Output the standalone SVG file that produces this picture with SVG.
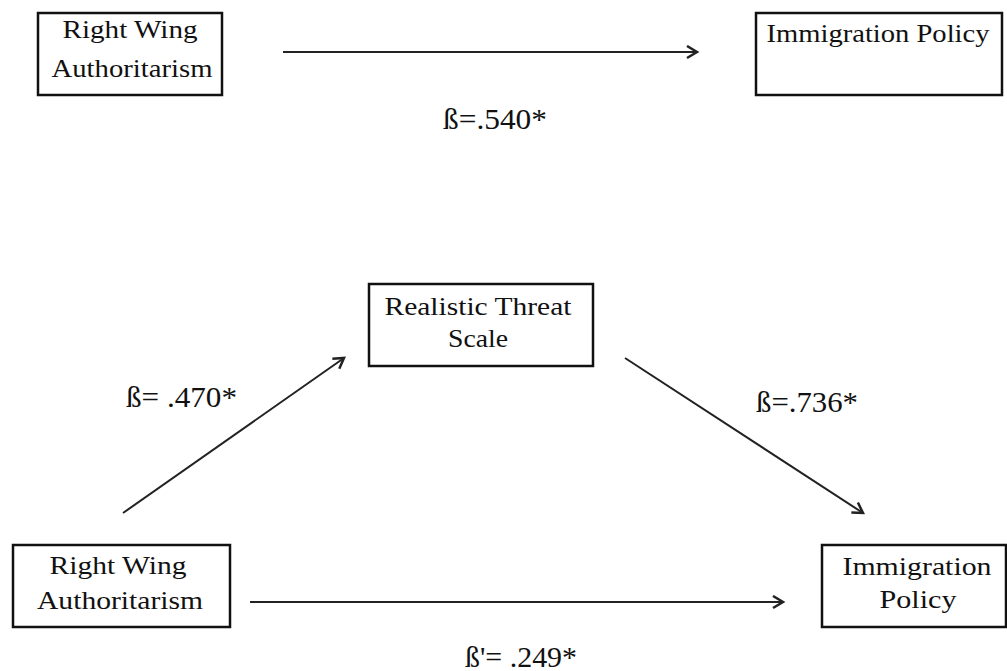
<svg xmlns="http://www.w3.org/2000/svg" width="1007" height="671" viewBox="0 0 1007 671">
<defs>
<style>
.box{fill:#fff;stroke:#111;stroke-width:2.5}
.t{font-family:"Liberation Serif","Times New Roman",serif;font-size:25px;fill:#111;text-anchor:middle}
.lbl{font-family:"Liberation Serif","Times New Roman",serif;font-size:30px;fill:#111}
.c{stroke:#222;stroke-width:2;fill:none}
</style>
<marker id="ah" markerUnits="userSpaceOnUse" markerWidth="16" markerHeight="16" refX="12" refY="7" orient="auto">
<path d="M2,1 L12,7 L2,13" fill="none" stroke="#222" stroke-width="2.5"/>
</marker>
</defs>
<rect width="1007" height="671" fill="#fff"/>
<g id="rwa1">
<rect class="box" x="38" y="13" width="184" height="82"/>
<text class="t" x="130" y="38" textLength="135" lengthAdjust="spacingAndGlyphs">Right Wing</text>
<text class="t" x="132" y="77" textLength="161" lengthAdjust="spacingAndGlyphs">Authoritarism</text>
</g>
<g id="ip1">
<rect class="box" x="756" y="13" width="246" height="82"/>
<text class="t" x="878" y="42" textLength="223" lengthAdjust="spacingAndGlyphs">Immigration Policy</text>
</g>
<g id="rts">
<rect class="box" x="369" y="284" width="224" height="82"/>
<text class="t" x="478" y="315" textLength="187" lengthAdjust="spacingAndGlyphs">Realistic Threat</text>
<text class="t" x="478" y="347" textLength="60" lengthAdjust="spacingAndGlyphs">Scale</text>
</g>
<g id="rwa2">
<rect class="box" x="13" y="545" width="217" height="82"/>
<text class="t" x="118" y="574" textLength="137" lengthAdjust="spacingAndGlyphs">Right Wing</text>
<text class="t" x="120" y="609" textLength="166" lengthAdjust="spacingAndGlyphs">Authoritarism</text>
</g>
<g id="ip2">
<rect class="box" x="822" y="545" width="184" height="82"/>
<text class="t" x="917" y="575" textLength="149" lengthAdjust="spacingAndGlyphs">Immigration</text>
<text class="t" x="918" y="608" textLength="77" lengthAdjust="spacingAndGlyphs">Policy</text>
</g>
<g id="connectors">
<line class="c" x1="283" y1="52" x2="697" y2="52" marker-end="url(#ah)"/>
<line class="c" x1="123" y1="513" x2="344" y2="358" marker-end="url(#ah)"/>
<line class="c" x1="625" y1="358" x2="863" y2="513" marker-end="url(#ah)"/>
<line class="c" x1="250" y1="602" x2="783" y2="602" marker-end="url(#ah)"/>
</g>
<g id="labels">
<text class="lbl" x="443" y="129" textLength="104" lengthAdjust="spacingAndGlyphs">ß=.540*</text>
<text class="lbl" x="126" y="407" textLength="111" lengthAdjust="spacingAndGlyphs">ß= .470*</text>
<text class="lbl" x="756" y="412" textLength="102" lengthAdjust="spacingAndGlyphs">ß=.736*</text>
<text class="lbl" x="465" y="667" textLength="112" lengthAdjust="spacingAndGlyphs">ß'= .249*</text>
</g>
</svg>
